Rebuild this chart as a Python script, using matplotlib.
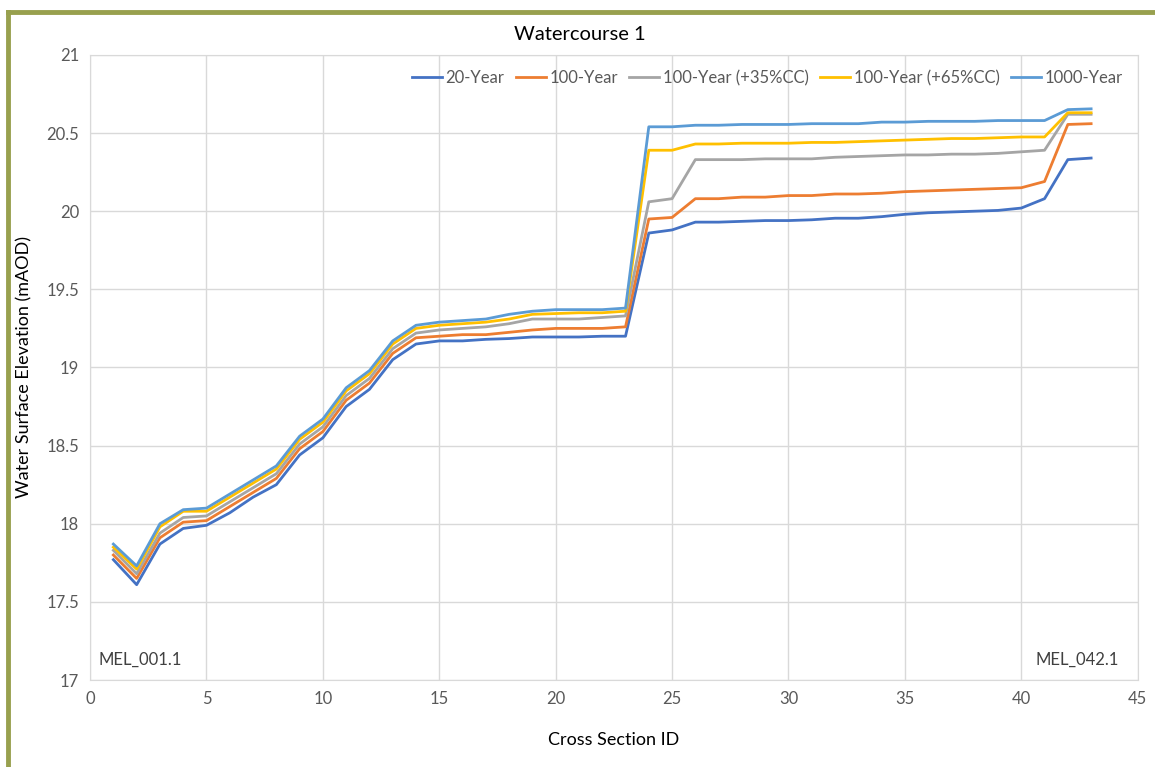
import matplotlib
matplotlib.use("Agg")
import matplotlib.pyplot as plt
from matplotlib.lines import Line2D
from matplotlib.ticker import FuncFormatter

# Cross section IDs 1..43
section_id = list(range(1, 44))

yr20 = [17.77, 17.61, 17.87, 17.97, 17.99, 18.07, 18.17, 18.25, 18.44, 18.55,
        18.75, 18.86, 19.05, 19.15, 19.17, 19.17, 19.18, 19.185, 19.195, 19.195,
        19.195, 19.20, 19.20, 19.86, 19.88, 19.93, 19.93, 19.935, 19.94, 19.94,
        19.945, 19.955, 19.955, 19.965, 19.98, 19.99, 19.995, 20.00, 20.005, 20.02,
        20.08, 20.33, 20.34]
yr100 = [17.80, 17.65, 17.91, 18.01, 18.02, 18.11, 18.20, 18.29, 18.48, 18.59,
         18.79, 18.90, 19.09, 19.19, 19.20, 19.21, 19.21, 19.225, 19.24, 19.25,
         19.25, 19.25, 19.26, 19.95, 19.96, 20.08, 20.08, 20.09, 20.09, 20.10,
         20.10, 20.11, 20.11, 20.115, 20.125, 20.13, 20.135, 20.14, 20.145, 20.15,
         20.19, 20.555, 20.56]
yr100_35 = [17.83, 17.68, 17.94, 18.04, 18.05, 18.14, 18.23, 18.32, 18.51, 18.62,
            18.82, 18.93, 19.12, 19.22, 19.24, 19.25, 19.26, 19.28, 19.31, 19.31,
            19.31, 19.32, 19.33, 20.06, 20.08, 20.33, 20.33, 20.33, 20.335, 20.335,
            20.335, 20.345, 20.35, 20.355, 20.36, 20.36, 20.365, 20.365, 20.37, 20.38,
            20.39, 20.62, 20.62]
yr100_65 = [17.85, 17.71, 17.98, 18.08, 18.08, 18.17, 18.26, 18.35, 18.54, 18.65,
            18.85, 18.96, 19.15, 19.25, 19.27, 19.28, 19.29, 19.31, 19.34, 19.345,
            19.35, 19.35, 19.36, 20.39, 20.39, 20.43, 20.43, 20.435, 20.435, 20.435,
            20.44, 20.44, 20.445, 20.45, 20.455, 20.46, 20.465, 20.465, 20.47, 20.475,
            20.475, 20.63, 20.63]
yr1000 = [17.87, 17.73, 18.00, 18.09, 18.10, 18.19, 18.28, 18.37, 18.56, 18.67,
          18.87, 18.98, 19.17, 19.27, 19.29, 19.30, 19.31, 19.34, 19.36, 19.37,
          19.37, 19.37, 19.38, 20.54, 20.54, 20.55, 20.55, 20.555, 20.555, 20.555,
          20.56, 20.56, 20.56, 20.57, 20.57, 20.575, 20.575, 20.575, 20.58, 20.58,
          20.58, 20.65, 20.655]

series_names = ['20-Year', '100-Year', '100-Year (+35%CC)', '100-Year (+65%CC)', '1000-Year']
series_data = [yr20, yr100, yr100_35, yr100_65, yr1000]
colours = ['#4472C4', '#ED7D31', '#A5A5A5', '#FFC000', '#5B9BD5']

plt.rcParams['font.family'] = ['Lato', 'DejaVu Sans']

fig = plt.figure(figsize=(11.55, 7.67), dpi=100)
ax = fig.add_axes([0.078, 0.1134, 0.907, 0.815])

for name, vals, col in zip(series_names, series_data, colours):
    ax.plot(section_id, vals, color=col, lw=2, label=name)

ax.set_xlim(0, 45)
ax.set_ylim(17, 21)
ax.set_xticks(range(0, 46, 5))
ax.set_yticks([17 + 0.5 * i for i in range(9)])
ax.yaxis.set_major_formatter(FuncFormatter(lambda v, p: '%g' % v))
ax.grid(True, color='#D9D9D9', lw=1)
ax.set_axisbelow(True)
for s in ax.spines.values():
    s.set_color('#D9D9D9')
ax.tick_params(length=0, labelsize=12, labelcolor='#595959', pad=8)

# title sits centred on the whole figure, not on the plot area
fig.text(580 / 1155, 1 - 34 / 767, 'Watercourse 1', fontsize=14.5, color='#000000',
         ha='center', va='center')
ax.set_xlabel('Cross Section ID', fontsize=13, color='#000000', labelpad=18)
ax.set_ylabel('Water Surface Elevation (mAOD)', fontsize=13, color='#000000', labelpad=10)

ax.text(0.35, 17.13, 'MEL_001.1', fontsize=12, color='#404040', va='center')
ax.text(44.2, 17.13, 'MEL_042.1', fontsize=12, color='#404040', va='center', ha='right')

ax.legend(loc='upper right', ncol=5, frameon=False, fontsize=12,
          handlelength=1.8, columnspacing=0.7, handletextpad=0.2,
          bbox_to_anchor=(1.0, 1.0), labelcolor='#595959')

# olive frame around the chart (top and left edges visible)
border = '#98A04E'
fig.add_artist(Line2D([8 / 1155, 1.0], [1 - 12 / 767, 1 - 12 / 767], color=border, lw=3.5,
                      transform=fig.transFigure))
fig.add_artist(Line2D([8 / 1155, 8 / 1155], [0, 1 - 12 / 767], color=border, lw=3.5,
                      transform=fig.transFigure))

fig.savefig('out.png', dpi=100)
